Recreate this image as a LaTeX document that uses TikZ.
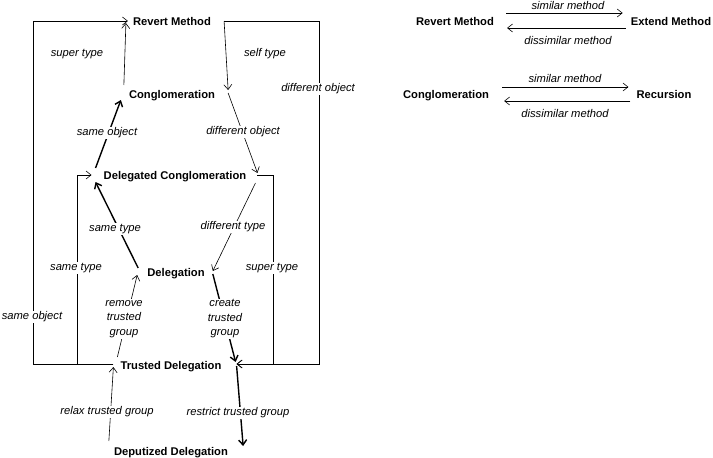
\documentclass[tikz,border=0pt]{standalone}
\usepackage{fontspec}
\setmainfont{Liberation Sans}
\usetikzlibrary{arrows.meta}

\begin{document}
\begin{tikzpicture}[x=1pt,y=-1pt,
state/.style={font=\fontsize{11.2}{14}\selectfont\bfseries, inner sep=0pt, text height=8pt, text depth=0pt},
lbl/.style={font=\fontsize{11.2}{14.5}\selectfont\itshape, fill=white, inner sep=1.2pt, align=center},
arrow/.style={-{Straight Barb[length=5pt,width=8pt]}, line width=0.6pt},
strong/.style={-{Straight Barb[length=5pt,width=8pt]}, line width=1.4pt}
]
\useasboundingbox (0,0) rectangle (713,458);

% states of the left diagram
\node[state] (revert) at (172,21) {Revert Method};
\node[state] (conglom) at (172,94) {Conglomeration};
\node[state] (delconglom) at (175,175) {Delegated Conglomeration};
\node[state] (delegation) at (176,272) {Delegation};
\node[state] (trusted) at (171,365) {Trusted Delegation};
\node[state] (deputized) at (171,451) {Deputized Delegation};

% states of the right diagram
\node[state] (revertB) at (455,21) {Revert Method};
\node[state] (extend) at (671,21) {Extend Method};
\node[state] (conglomB) at (446,94) {Conglomeration};
\node[state] (recursion) at (664,94) {Recursion};

% outer loops
\draw[arrow] ([shift={(-7,-1)}]trusted.west) -- (33,364) -- (33,21) -- ([shift={(-5,0)}]revert.west);
\draw[arrow] ([shift={(-7,-1)}]trusted.west) -- (77,364) -- (77,175) -- ([shift={(-12,0)}]delconglom.west);
\draw[arrow] ([shift={(13,0)}]revert.east) -- (319,21) -- (319,364) -- ([shift={(15,-1)}]trusted.east);
\draw[arrow] ([shift={(11,0)}]delconglom.east) -- (273,175) -- (273,364) -- ([shift={(15,-1)}]trusted.east);

% inner transitions
\draw[arrow] ([shift={(-5,-9)}]conglom.west) -- ([shift={(-7,2)}]revert.west);
\draw[arrow] ([shift={(13,0)}]revert.east) -- ([shift={(13,-4)}]conglom.east);
\draw[arrow] ([shift={(13,-1)}]conglom.east) -- ([shift={(11,-2)}]delconglom.east);
\draw[strong] ([shift={(-8,-7)}]delconglom.west) -- ([shift={(-8,6)}]conglom.west);
\draw[strong] ([shift={(-9,-4)}]delegation.west) -- ([shift={(-8,7)}]delconglom.west);
\draw[arrow] ([shift={(9,8)}]delconglom.east) -- ([shift={(8,-1)}]delegation.east);
\draw[strong] ([shift={(8,2)}]delegation.east) -- ([shift={(14,-3)}]trusted.east);
\draw[strong] ([shift={(15,1)}]trusted.east) -- ([shift={(15,-5)}]deputized.east);
\draw[arrow] ([shift={(-5,-10)}]deputized.west) -- ([shift={(-7,2)}]trusted.west);
\draw[arrow] ([shift={(-3,-8)}]trusted.west) -- ([shift={(-10,3)}]delegation.west);

% right diagram
\draw[arrow] ([shift={(12,-8)}]revertB.east) -- ([shift={(-8,-8)}]extend.west);
\draw[arrow] ([shift={(-5,7)}]extend.west) -- ([shift={(13,7)}]revertB.east);
\draw[arrow] ([shift={(13,-7)}]conglomB.east) -- ([shift={(-8,-7)}]recursion.west);
\draw[arrow] ([shift={(-6,7)}]recursion.west) -- ([shift={(15,7)}]conglomB.east);

% labels
\node[lbl] (superA) at (77,54) {super type};
\node[lbl] (self) at (265,54) {self type};
\node[lbl] (diffobjA) at (318,89) {different object};
\node[lbl] (sameobjA) at (107,133) {same object};
\node[lbl] (diffobjB) at (243,132) {different object};
\node[lbl] (sametypeA) at (115,229) {same type};
\node[lbl] (difftype) at (233,227) {different type};
\node[lbl] (sametypeB) at (76,268) {same type};
\node[lbl] (superB) at (272,268) {super type};
\node[lbl] (remove) at (124,319) {remove\\trusted\\group};
\node[lbl] (create) at (225,319) {create\\trusted\\group};
\node[lbl] (sameobjB) at (32,317) {same object};
\node[lbl] (relax) at (107,412) {relax trusted group};
\node[lbl] (restrict) at (238,413) {restrict trusted group};
\node[lbl] (simA) at (568,5) {similar method};
\node[lbl] (dissimA) at (568,40) {dissimilar method};
\node[lbl] (simB) at (565,78) {similar method};
\node[lbl] (dissimB) at (565,113) {dissimilar method};
\end{tikzpicture}
\end{document}
